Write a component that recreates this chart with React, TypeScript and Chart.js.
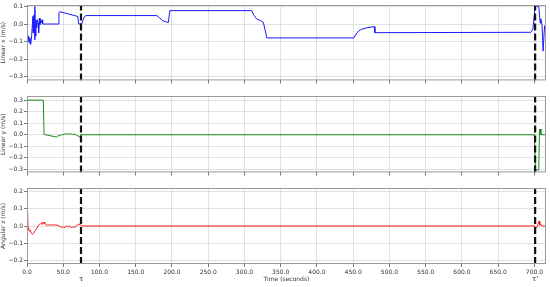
import React, { useEffect, useRef } from "react";
import { Chart, registerables } from "chart.js";

Chart.register(...registerables);

// ---------- data ----------
const timeLinearX = [0, 0.46, 1.38, 2.3, 3.2, 4.1, 5.1, 6.4, 7.4, 8.3, 8.7, 9.7, 10.6, 11.0, 11.9, 12.4, 13.3, 14.3, 15.2, 16.1, 17.0, 17.9, 18.9, 19.8, 20.7, 21.6, 43.2, 44.1, 45.5, 70, 71.5, 75.4, 77, 79, 81.4, 179, 183, 187, 192, 195, 197, 310, 313, 317, 322, 326, 331, 451, 455, 460, 469, 479, 480, 695, 698, 701, 706, 708, 709, 710.5, 712, 714, 716];
const linearX = [-0.06, -0.032, -0.097, -0.069, -0.107, -0.079, -0.116, -0.069, -0.004, 0.043, -0.05, 0.052, -0.09, 0.099, -0.069, 0.024, -0.022, 0.024, 0.006, -0.05, 0.034, -0.004, 0.024, 0.006, 0.024, 0.0, 0.0, 0.065, 0.07, 0.043, 0.0, 0.0, 0.02, 0.04, 0.048, 0.048, 0.035, 0.02, 0.012, 0.009, 0.076, 0.076, 0.05, 0.028, 0.02, 0.01, -0.079, -0.079, -0.05, -0.032, -0.021, -0.015, -0.049, -0.047, -0.028, 0.103, 0.1, 0.005, 0.03, -0.005, -0.154, -0.01, -0.07];

const timeLinearY = [0, 22.5, 23.5, 40.9, 43.2, 45.5, 47.8, 50.1, 52.4, 54.7, 57.0, 59.3, 61.6, 63.9, 66.2, 68.5, 70.8, 73.1, 74.5, 77.7, 700, 701.5, 706, 707, 708, 709, 716];
const linearY = [0.3, 0.3, 0.003, -0.02, -0.006, -0.011, 0.003, 0.0, 0.009, 0.006, 0.011, 0.003, 0.009, 0.0, 0.006, -0.006, -0.011, -0.02, 0.003, 0.0, 0.0, -0.305, -0.305, 0.043, 0.05, 0.0, 0.0];

const timeAngularZ = [0, 1.4, 2.3, 3.2, 4.1, 5.1, 6.4, 7.8, 8.7, 10.1, 11.5, 13.3, 15.2, 17.0, 18.9, 20.7, 21.6, 22.5, 23.9, 24.8, 26.2, 27.1, 29.4, 36.3, 43.2, 44.6, 45.9, 47.8, 50.1, 52.4, 54.7, 57.0, 59.3, 61.6, 63.9, 66.2, 68.5, 70.8, 73.1, 75.4, 77.7, 700, 701.5, 703, 705, 706.5, 707.5, 709, 710, 716];
const angularZ = [0.2, -0.01, -0.019, -0.029, -0.023, -0.035, -0.044, -0.048, -0.044, -0.035, -0.025, -0.015, 0.0, 0.01, 0.013, 0.019, 0.01, 0.017, 0.023, 0.015, 0.006, 0.004, 0.006, 0.006, 0.004, -0.004, 0.0, -0.01, -0.004, -0.01, 0.002, -0.006, 0.0, -0.01, -0.004, -0.008, 0.0, 0.012, 0.008, 0.002, 0.0, 0.0, -0.015, -0.01, 0.01, 0.029, 0.005, 0.01, 0.0, 0.0];

const eventTimes = [74.5, 701];
const eventLabels = ["τ", "τ'"];

const xTickValues = [0, 50, 100, 150, 200, 250, 300, 350, 400, 450, 500, 550, 600, 650, 700];
const yTicksLinearX = [-0.3, -0.2, -0.1, 0.0, 0.1];
const yTicksLinearY = [-0.3, -0.2, -0.1, 0.0, 0.1, 0.2, 0.3];
const yTicksAngularZ = [-0.2, -0.1, 0.0, 0.1, 0.2];

const X_MIN = 0;
const X_MAX = 716;

const FONT = "'DejaVu Sans', sans-serif";

type Panel = {
  time: number[];
  values: number[];
  color: string;
  yTitle: string;
  yMin: number;
  yMax: number;
  yTicks: number[];
  bottom: boolean;
  top: number;
  height: number;
  padTop: number;
  xAxisHeight: number;
};

const panels: Panel[] = [
  { time: timeLinearX, values: linearX, color: "#1a1aff", yTitle: "Linear x (m/s)", yMin: -0.32, yMax: 0.108, yTicks: yTicksLinearX, bottom: false, top: 0, height: 85, padTop: 5, xAxisHeight: 4 },
  { time: timeLinearY, values: linearY, color: "#1a8c1a", yTitle: "Linear y (m/s)", yMin: -0.326, yMax: 0.336, yTicks: yTicksLinearY, bottom: false, top: 90, height: 87, padTop: 6, xAxisHeight: 4 },
  { time: timeAngularZ, values: angularZ, color: "#ff1a1a", yTitle: "Angular z (m/s)", yMin: -0.22, yMax: 0.22, yTicks: yTicksAngularZ, bottom: true, top: 180, height: 107, padTop: 8, xAxisHeight: 23 },
];

const fmt = (v: number) => {
  const s = (Math.abs(v) < 1e-9 ? 0 : v).toFixed(1);
  return s.replace("-", "\u2212");
};

const framePlugin = {
  id: "frame",
  afterDatasetsDraw(chart: any) {
    const { ctx, chartArea } = chart;
    ctx.save();
    ctx.strokeStyle = "#9a9a9a";
    ctx.lineWidth = 1;
    ctx.strokeRect(chartArea.left + 0.5, chartArea.top + 0.5, chartArea.right - chartArea.left - 1, chartArea.bottom - chartArea.top - 1);
    ctx.restore();
  },
};

function PanelChart({ p }: { p: Panel }) {
  const ref = useRef<HTMLCanvasElement | null>(null);
  useEffect(() => {
    if (!ref.current) return;
    const lineData = p.time.map((t, i) => ({ x: t, y: p.values[i] }));
    const dashSets = eventTimes.map((t) => ({
      data: [{ x: t, y: p.yMin }, { x: t, y: p.yMax }],
      borderColor: "#111111",
      borderWidth: 2.2,
      borderDash: [7, 3],
      pointRadius: 0,
      fill: false,
    }));
    const labelPlugin = {
      id: "eventLabels",
      afterDraw(chart: any) {
        if (!p.bottom) return;
        const { ctx } = chart;
        const xs = chart.scales.x;
        ctx.save();
        ctx.fillStyle = "#222";
        ctx.font = `7px ${FONT}`;
        ctx.textAlign = "center";
        ctx.textBaseline = "middle";
        eventTimes.forEach((t, i) => {
          ctx.fillText(eventLabels[i], xs.getPixelForValue(t), 99.5);
        });
        ctx.restore();
      },
    };
    const chart = new Chart(ref.current, {
      type: "line",
      data: {
        datasets: [
          ...dashSets,
          {
            data: lineData,
            borderColor: p.color,
            borderWidth: 1,
            pointRadius: 0,
            fill: false,
            tension: 0,
          },
        ] as any,
      },
      options: {
        animation: false,
        responsive: false,
        devicePixelRatio: 1,
        events: [],
        layout: { padding: { top: p.padTop, right: 4, left: 0, bottom: 0 } },
        plugins: { legend: { display: false }, tooltip: { enabled: false } },
        scales: {
          x: {
            type: "linear",
            min: X_MIN,
            max: X_MAX,
            afterBuildTicks: (axis: any) => {
              axis.ticks = xTickValues.map((v) => ({ value: v }));
            },
            afterFit: (axis: any) => {
              axis.height = p.xAxisHeight;
            },
            border: { display: false },
            grid: { color: "#d9d9d9", lineWidth: 0.8, tickLength: 3, tickColor: "#555", drawTicks: true },
            ticks: {
              display: p.bottom,
              padding: 2,
              maxRotation: 0,
              autoSkip: false,
              color: "#333",
              font: { size: 6, family: FONT },
              callback: (v: any) => Number(v).toFixed(1),
            },
            title: {
              display: p.bottom,
              text: "Time (seconds)",
              color: "#333",
              font: { size: 6, family: FONT },
              padding: { top: 0, bottom: 4 },
            },
          },
          y: {
            type: "linear",
            min: p.yMin,
            max: p.yMax,
            afterBuildTicks: (axis: any) => {
              axis.ticks = p.yTicks.map((v) => ({ value: v }));
            },
            afterFit: (axis: any) => {
              axis.width = 27;
            },
            border: { display: false },
            grid: { color: "#d9d9d9", lineWidth: 0.8, tickLength: 3, tickColor: "#555", drawTicks: true },
            ticks: {
              padding: 1,
              color: "#333",
              font: { size: 6, family: FONT },
              callback: (v: any) => fmt(Number(v)),
            },
            title: {
              display: true,
              text: p.yTitle,
              color: "#333",
              font: { size: 6, family: FONT },
              padding: { top: 0, bottom: 0 },
            },
          },
        },
      } as any,
      plugins: [framePlugin, labelPlugin],
    });
    return () => chart.destroy();
  }, [p]);
  return (
    <canvas
      ref={ref}
      width={550}
      height={p.height}
      style={{ position: "absolute", left: 0, top: p.top, width: 550, height: p.height }}
    />
  );
}

export default function App() {
  return (
    <div style={{ position: "absolute", left: 0, top: 0, width: 550, height: 287, background: "#fff", overflow: "hidden" }}>
      {panels.map((p, i) => (
        <PanelChart key={i} p={p} />
      ))}
    </div>
  );
}
